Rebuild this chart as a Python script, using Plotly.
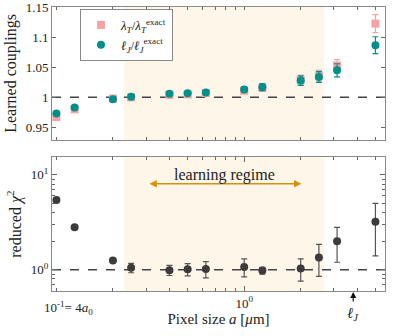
import numpy as np
import plotly.graph_objects as go

# pixel sizes (um)
pixel = [0.1, 0.125, 0.2, 0.25, 0.4, 0.5, 0.625, 1.0, 1.25, 2.0, 2.5, 3.125, 5.0]

# learned couplings
lam_ratio = [0.967, 0.980, 0.998, 1.000, 1.004, 1.005, 1.007, 1.011, 1.016, 1.029, 1.036, 1.053, 1.123]
lam_err = [0.002, 0.002, 0.002, 0.002, 0.002, 0.002, 0.003, 0.004, 0.006, 0.008, 0.009, 0.010, 0.015]
ell_ratio = [0.973, 0.983, 0.997, 1.001, 1.006, 1.007, 1.008, 1.013, 1.017, 1.028, 1.034, 1.045, 1.087]
ell_err = [0.002, 0.002, 0.002, 0.002, 0.002, 0.002, 0.003, 0.004, 0.006, 0.008, 0.009, 0.011, 0.014]

# reduced chi^2
chi2 = [5.45, 2.81, 1.25, 1.05, 0.99, 1.01, 1.02, 1.07, 0.98, 1.03, 1.35, 2.0, 3.2]
chi2_err = [0.0, 0.0, 0.0, 0.12, 0.12, 0.15, 0.2, 0.23, 0.08, 0.27, 0.5, 0.8, 1.8]

regime = [0.2286, 2.67]
ell_J = 3.81

pink = "#f7a3a3"
teal = "#00908a"
dark = "#3d3a3c"
shade = "#fef6e8"
orange = "#d6920c"
font = "'Liberation Serif', 'DejaVu Serif', serif"

fig = go.Figure()

fig.add_trace(go.Scatter(
    x=pixel, y=lam_ratio, mode="markers",
    marker=dict(symbol="square", size=8, color=pink),
    error_y=dict(type="data", array=lam_err, color=pink, width=3, thickness=1.2),
    name="<i>λ<sub>T</sub></i>/<i>λ</i><sub><i>T</i></sub><sup>exact</sup>",
    xaxis="x", yaxis="y"))
fig.add_trace(go.Scatter(
    x=pixel, y=ell_ratio, mode="markers",
    marker=dict(symbol="circle", size=8, color=teal),
    error_y=dict(type="data", array=ell_err, color=teal, width=3, thickness=1.2),
    name="<i>ℓ<sub>J</sub></i>/<i>ℓ</i><sub><i>J</i></sub><sup>exact</sup>",
    xaxis="x", yaxis="y"))
fig.add_trace(go.Scatter(
    x=pixel, y=chi2, mode="markers",
    marker=dict(symbol="circle", size=8, color=dark),
    error_y=dict(type="data", array=chi2_err, color="#555", width=3, thickness=1.2),
    showlegend=False, xaxis="x2", yaxis="y2"))

xr = [-1.0235, 0.75]
minor_x = [v * 10 ** e for e in (-1, 0) for v in range(2, 10)] + [0.1, 1]
axis_common = dict(showline=True, linecolor="#888", linewidth=1, mirror="ticks",
                   ticks="inside", tickcolor="#666", showgrid=False, zeroline=False,
                   automargin=False, ticklabeloverflow="allow",
                   tickfont=dict(family=font, size=13, color="#222"))

fig.update_layout(
    width=394, height=336,
    margin=dict(l=52, r=9, t=7, b=45),
    plot_bgcolor="white", paper_bgcolor="white",
    font=dict(family=font, size=13, color="#222"),
    xaxis=dict(type="log", range=xr, domain=[0, 1], anchor="y",
               tickvals=[0.1, 1], ticktext=["", ""], ticklen=5,
               minor=dict(tickvals=minor_x, ticklen=3, ticks="inside", tickcolor="#666"),
               **axis_common),
    yaxis=dict(range=[0.929, 1.1506], domain=[0.532, 1], anchor="x",
               tickvals=[0.95, 1, 1.05, 1.1, 1.15],
               ticktext=["0.95", "1", "1.05", "1.1", "1.15"], ticklen=4,
               title=dict(text="Learned couplings", font=dict(family=font, size=16), standoff=5),
               **axis_common),
    xaxis2=dict(type="log", range=xr, domain=[0, 1], anchor="y2",
                tickvals=[0.1, 1], ticktext=["", "10<sup>0</sup>"], ticklen=5,
                minor=dict(tickvals=minor_x, ticklen=3, ticks="inside", tickcolor="#666"),
                title=dict(text="Pixel size <i>a</i> [<i>μ</i>m]", font=dict(family=font, size=15), standoff=2),
                **axis_common),
    yaxis2=dict(type="log", range=[-0.224, 1.186], domain=[0, 0.471], anchor="x2",
                tickvals=[1, 10], ticktext=["10<sup>0</sup>", "10<sup>1</sup>"], ticklen=5,
                minor=dict(tickvals=[v * 10 ** e for e in (-1, 0, 1) for v in range(2, 10)],
                           ticklen=3, ticks="inside", tickcolor="#666"),
                title=dict(text="reduced <i>χ</i><sup>2</sup>", font=dict(family=font, size=16), standoff=5),
                **axis_common),
    legend=dict(x=0.084, y=0.993, xanchor="left", yanchor="top",
                bgcolor="white", bordercolor="#888", borderwidth=1,
                font=dict(family=font, size=13), itemwidth=30,
                tracegroupgap=0),
)

# shaded learning regime and reference lines
for xa, ya in (("x", "y"), ("x2", "y2")):
    fig.add_shape(type="rect", xref=xa, yref=ya + " domain", x0=regime[0], x1=regime[1],
                  y0=0, y1=1, fillcolor=shade, line_width=0, layer="below")
    fig.add_shape(type="line", xref=xa + " domain", yref=ya, x0=0, x1=1, y0=1, y1=1,
                  line=dict(color="#444", width=1.5, dash="dash"), layer="below")

# learning regime arrow
fig.add_annotation(x=np.log10(2.02), y=np.log10(8.05), ax=np.log10(0.307), ay=np.log10(8.05),
                   xref="x2", yref="y2", axref="x2", ayref="y2", text="",
                   showarrow=True, arrowhead=2, startarrowhead=2, arrowside="end+start",
                   arrowsize=1, arrowwidth=1.5, arrowcolor=orange)
fig.add_annotation(x=np.log10(0.79), y=np.log10(10.0), xref="x2", yref="y2",
                   text="learning regime", showarrow=False,
                   font=dict(family=font, size=16, color="#222"))

# custom tick label for 10^-1 = 4 a0
fig.add_annotation(x=-1, y=0, xref="x2", yref="paper", yshift=-6, xshift=-14,
                   text="10<sup>-1</sup>= 4<i>a</i><sub>0</sub>", showarrow=False,
                   xanchor="left", yanchor="top", font=dict(family=font, size=13, color="#222"))

# ell_J marker
fig.add_annotation(x=np.log10(ell_J), y=0, xref="x2", yref="paper", ax=0, ay=11,
                   yshift=-1, text="", showarrow=True, arrowhead=2, arrowsize=1,
                   arrowwidth=1.2, arrowcolor="#111")
fig.add_annotation(x=np.log10(ell_J), y=0, xref="x2", yref="paper", yshift=-12,
                   text="<i>ℓ<sub>J</sub></i>", showarrow=False, yanchor="top",
                   font=dict(family=font, size=15, color="#222"))

# page body has a default 8px margin; drop it so the figure fills the window
fig.write_html("out.html", config={"displayModeBar": False},
               post_script="document.body.style.margin='0px';")
